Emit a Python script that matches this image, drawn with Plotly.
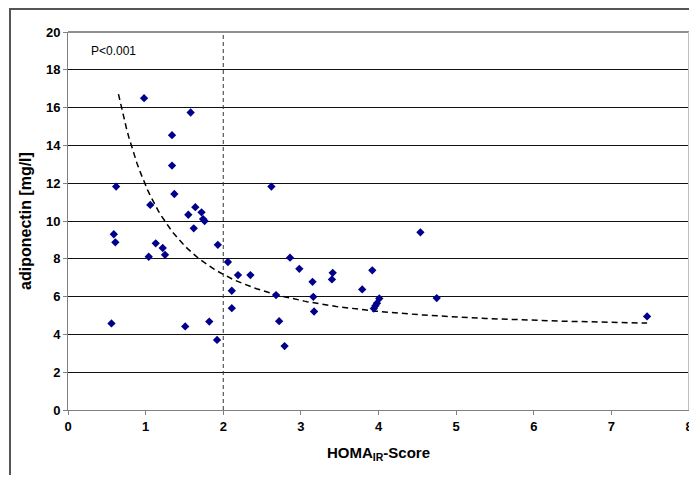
import plotly.graph_objects as go
import numpy as np

# HOMA-IR score (x) and adiponectin mg/l (y)
homa_ir = [0.56, 0.59, 0.61, 0.62, 0.98, 1.04, 1.06, 1.13, 1.22, 1.25,
           1.34, 1.34, 1.37, 1.51, 1.55, 1.58, 1.62, 1.64, 1.72, 1.74,
           1.76, 1.82, 1.92, 1.93, 2.06, 2.11, 2.11, 2.19, 2.35, 2.62,
           2.68, 2.72, 2.79, 2.86, 2.98, 3.15, 3.16, 3.17, 3.40, 3.41,
           3.79, 3.92, 3.94, 3.96, 3.98, 4.01, 4.54, 4.75, 7.46]
adiponectin = [4.58, 9.30, 8.87, 11.82, 16.50, 8.11, 10.85, 8.82, 8.57, 8.21,
               14.54, 12.93, 11.43, 4.42, 10.33, 15.74, 9.61, 10.73, 10.46, 10.10,
               10.00, 4.68, 3.71, 8.74, 7.83, 6.31, 5.39, 7.14, 7.14, 11.82,
               6.08, 4.70, 3.38, 8.06, 7.47, 6.78, 5.99, 5.21, 6.91, 7.26,
               6.38, 7.39, 5.37, 5.51, 5.65, 5.90, 9.40, 5.92, 4.95]

# trendline parameters (y = c + a/(x+d)^2), range of the fitted curve
TREND_C, TREND_A, TREND_D = 4.3, 19.4, 0.6
TREND_XMIN, TREND_XMAX = 0.65, 7.46
CUTOFF_X = 2

x_ticks = [0, 1, 2, 3, 4, 5, 6, 7, 8]
y_ticks = [0, 2, 4, 6, 8, 10, 12, 14, 16, 18, 20]

tx = np.linspace(TREND_XMIN, TREND_XMAX, 200)
ty = TREND_C + TREND_A / (tx + TREND_D) ** 2

FONT = "Liberation Sans, Arial"

fig = go.Figure()
fig.add_trace(go.Scatter(x=tx, y=ty, mode="lines",
                         line=dict(color="black", width=1.5, dash="6px,4px"),
                         hoverinfo="skip", showlegend=False))
fig.add_trace(go.Scatter(x=homa_ir, y=adiponectin, mode="markers",
                         marker=dict(symbol="diamond", size=6.4, color="#00008B",
                                     line=dict(width=0)),
                         showlegend=False))

shapes = [
    # cutoff line
    dict(type="line", xref="x", yref="paper", x0=CUTOFF_X, x1=CUTOFF_X, y0=0, y1=1,
         line=dict(color="#333333", width=1, dash="4px,3px")),
    # plot-area top and right borders
    dict(type="line", xref="paper", yref="paper", x0=0, x1=1, y0=1, y1=1,
         line=dict(color="#909090", width=2)),
    dict(type="line", xref="paper", yref="paper", x0=1, x1=1, y0=0, y1=1,
         line=dict(color="#c0c0c0", width=2)),
]

# outer frame of the figure (drawn as an empty bordered box reaching past the edges)
fig.add_annotation(text=" ", xref="paper", yref="paper", x=-0.0955, y=1.0622,
                   xanchor="left", yanchor="top", showarrow=False,
                   width=720, height=500, borderpad=0, bordercolor="#555555", borderwidth=2,
                   font=dict(size=4))

fig.add_annotation(text="P<0.001", xref="paper", yref="paper", x=0.034, y=0.95,
                   xanchor="left", yanchor="middle", showarrow=False,
                   font=dict(family=FONT, size=12, color="black"))

fig.update_layout(
    width=689, height=467,
    margin=dict(l=60, r=8, t=24, b=65, autoexpand=False),
    paper_bgcolor="white", plot_bgcolor="white",
    font=dict(family=FONT, color="black"),
    shapes=shapes,
    xaxis=dict(range=[0, 8], tickvals=x_ticks, ticks="outside", ticklen=4, tickcolor="#808080",
               showgrid=False, zeroline=False, showline=True, linecolor="#808080", linewidth=1,
               automargin=False, ticklabeloverflow="allow",
               tickfont=dict(size=13, family=FONT, weight="bold"),
               title=dict(text="<b>HOMA<sub>IR</sub>-Score</b>", standoff=14,
                          font=dict(size=15, family=FONT))),
    yaxis=dict(range=[0, 20], tickvals=y_ticks, ticks="outside", ticklen=4, tickcolor="#808080",
               showgrid=True, gridcolor="#111111", gridwidth=1.3, zeroline=False,
               showline=True, linecolor="#808080", linewidth=1,
               automargin=False, ticklabeloverflow="allow",
               tickfont=dict(size=13, family=FONT, weight="bold"),
               title=dict(text="<b>adiponectin [mg/l]</b>", standoff=10,
                          font=dict(size=16, family=FONT))),
)

fig.write_html("out.html")
